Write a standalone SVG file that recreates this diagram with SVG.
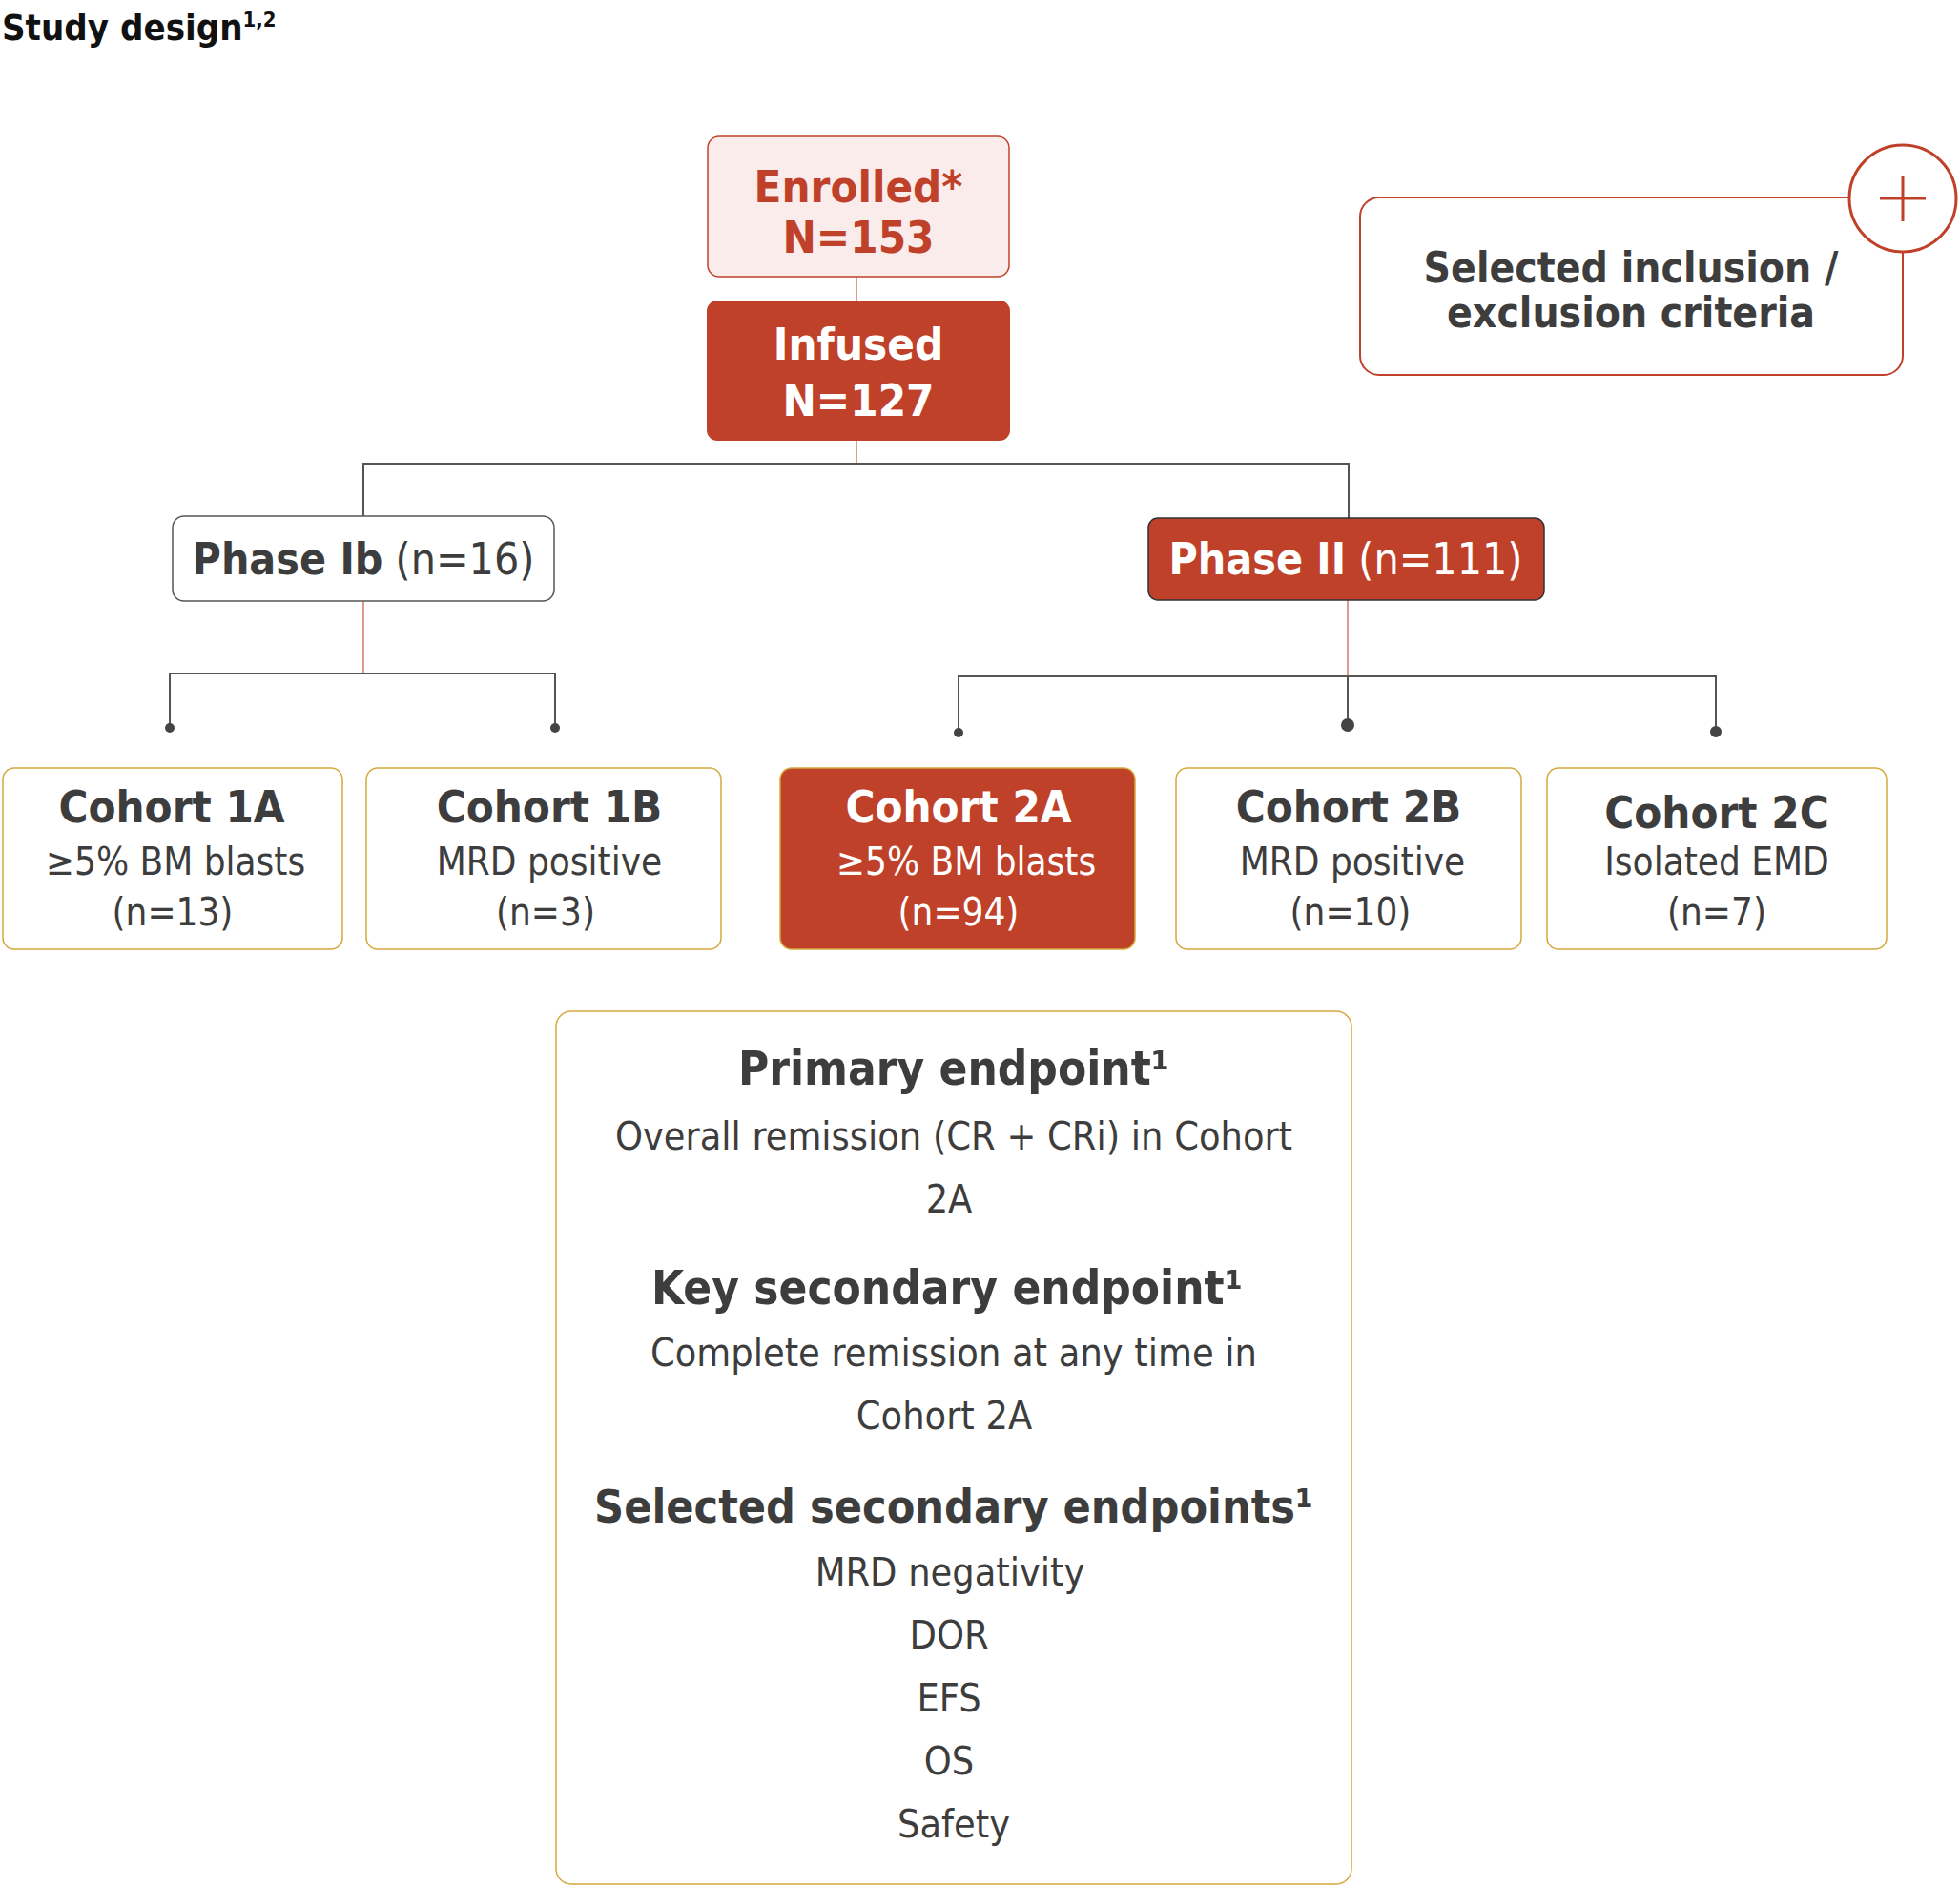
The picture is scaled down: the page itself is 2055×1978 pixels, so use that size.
<svg xmlns="http://www.w3.org/2000/svg" width="2055" height="1978" viewBox="0 0 2055 1978">
<style>
text{font-family:"DejaVu Sans Condensed","Roboto","Liberation Sans",sans-serif;fill:#3d3d3d;text-anchor:middle}
.b{font-weight:bold}
.w{fill:#fff}
.r{fill:#c0412a}
.gold{fill:#fff;stroke:#d4a93c;stroke-width:1.5}
.red{fill:#c0412a;stroke:#c0412a;stroke-width:2}
.line{fill:none;stroke:#555;stroke-width:2}
.rline{fill:none;stroke:#d67a68;stroke-width:1.5}
</style>
<text x="2" y="42" class="b" style="text-anchor:start;fill:#111;font-size:38px">Study design<tspan font-size="22" dy="-14">1,2</tspan></text>
<g id="connectors">
<path class="rline" d="M898 290V316M898 461V486M381 630V706M1413 629V709"/>
<path class="line" d="M381 541V486H1414V543M178 763V706H582V763M1005 768V709H1799V767M1413 709V760"/>
<circle cx="178" cy="763" r="5" fill="#444"/><circle cx="582" cy="763" r="5" fill="#444"/>
<circle cx="1005" cy="768" r="5" fill="#444"/><circle cx="1413" cy="760" r="7" fill="#444"/><circle cx="1799" cy="767" r="6" fill="#444"/>
</g>
<g id="enrolled"><rect x="742" y="143" width="316" height="147" rx="12" fill="#f9ecea" stroke="#c0412a" stroke-width="1.5"/>
<text x="900" y="212" class="b r" font-size="47">Enrolled*</text><text x="900" y="265" class="b r" font-size="47">N=153</text></g>
<g id="infused"><rect x="742" y="316" width="316" height="145" rx="10" class="red"/>
<text x="900" y="377" class="b w" font-size="47">Infused</text><text x="900" y="436" class="b w" font-size="47">N=127</text></g>
<g id="criteria"><path d="M1939 207H1446A20 20 0 0 0 1426 227V373A20 20 0 0 0 1446 393H1975A20 20 0 0 0 1995 373V264" fill="none" stroke="#c0412a" stroke-width="2"/>
<text x="1710" y="296" class="b" font-size="44">Selected inclusion /</text><text x="1710" y="343" class="b" font-size="44">exclusion criteria</text>
<circle cx="1995" cy="208" r="56" fill="#fff" stroke="#c0412a" stroke-width="3"/><path d="M1971 208H2019M1995 184V232" stroke="#c0412a" stroke-width="3"/></g>
<g id="phase1b"><rect x="181" y="541" width="400" height="89" rx="12" fill="#fff" stroke="#555" stroke-width="1.5"/>
<text x="381" y="602" font-size="46"><tspan class="b">Phase Ib</tspan> (n=16)</text></g>
<g id="phase2"><rect x="1204" y="543" width="415" height="86" rx="10" fill="#c0412a" stroke="#333" stroke-width="1.5"/>
<text x="1411" y="602" font-size="46" class="w"><tspan class="b">Phase II</tspan> (n=111)</text></g>
<g id="c1a"><rect x="3" y="805" width="356" height="190" rx="12" class="gold"/>
<text x="180" y="862" class="b" font-size="47">Cohort 1A</text><text x="184" y="917" font-size="40">≥5% BM blasts</text><text x="181" y="970" font-size="40">(n=13)</text></g>
<g id="c1b"><rect x="384" y="805" width="372" height="190" rx="12" class="gold"/>
<text x="576" y="862" class="b" font-size="47">Cohort 1B</text><text x="576" y="917" font-size="40">MRD positive</text><text x="572" y="970" font-size="40">(n=3)</text></g>
<g id="c2a"><rect x="818" y="805" width="372" height="190" rx="12" fill="#c0412a" stroke="#d4a93c" stroke-width="1.5"/>
<text x="1005" y="862" class="b w" font-size="47">Cohort 2A</text><text x="1013" y="917" class="w" font-size="40">≥5% BM blasts</text><text x="1005" y="970" class="w" font-size="40">(n=94)</text></g>
<g id="c2b"><rect x="1233" y="805" width="362" height="190" rx="12" class="gold"/>
<text x="1414" y="862" class="b" font-size="47">Cohort 2B</text><text x="1418" y="917" font-size="40">MRD positive</text><text x="1416" y="970" font-size="40">(n=10)</text></g>
<g id="c2c"><rect x="1622" y="805" width="356" height="190" rx="12" class="gold"/>
<text x="1800" y="868" class="b" font-size="47">Cohort 2C</text><text x="1800" y="917" font-size="40">Isolated EMD</text><text x="1800" y="970" font-size="40">(n=7)</text></g>
<g id="endpoints"><rect x="583" y="1060" width="834" height="915" rx="16" class="gold"/>
<text x="1000" y="1137" class="b" font-size="49">Primary endpoint¹</text>
<text x="1000" y="1205" font-size="41">Overall remission (CR + CRi) in Cohort</text>
<text x="995" y="1271" font-size="41">2A</text>
<text x="993" y="1367" class="b" font-size="49">Key secondary endpoint¹</text>
<text x="1000" y="1432" font-size="41">Complete remission at any time in</text>
<text x="990" y="1498" font-size="41">Cohort 2A</text>
<text x="1000" y="1596" class="b" font-size="48">Selected secondary endpoints¹</text>
<text x="996" y="1662" font-size="41">MRD negativity</text>
<text x="995" y="1728" font-size="41">DOR</text>
<text x="995" y="1794" font-size="41">EFS</text>
<text x="995" y="1860" font-size="41">OS</text>
<text x="1000" y="1926" font-size="41">Safety</text></g>
</svg>
